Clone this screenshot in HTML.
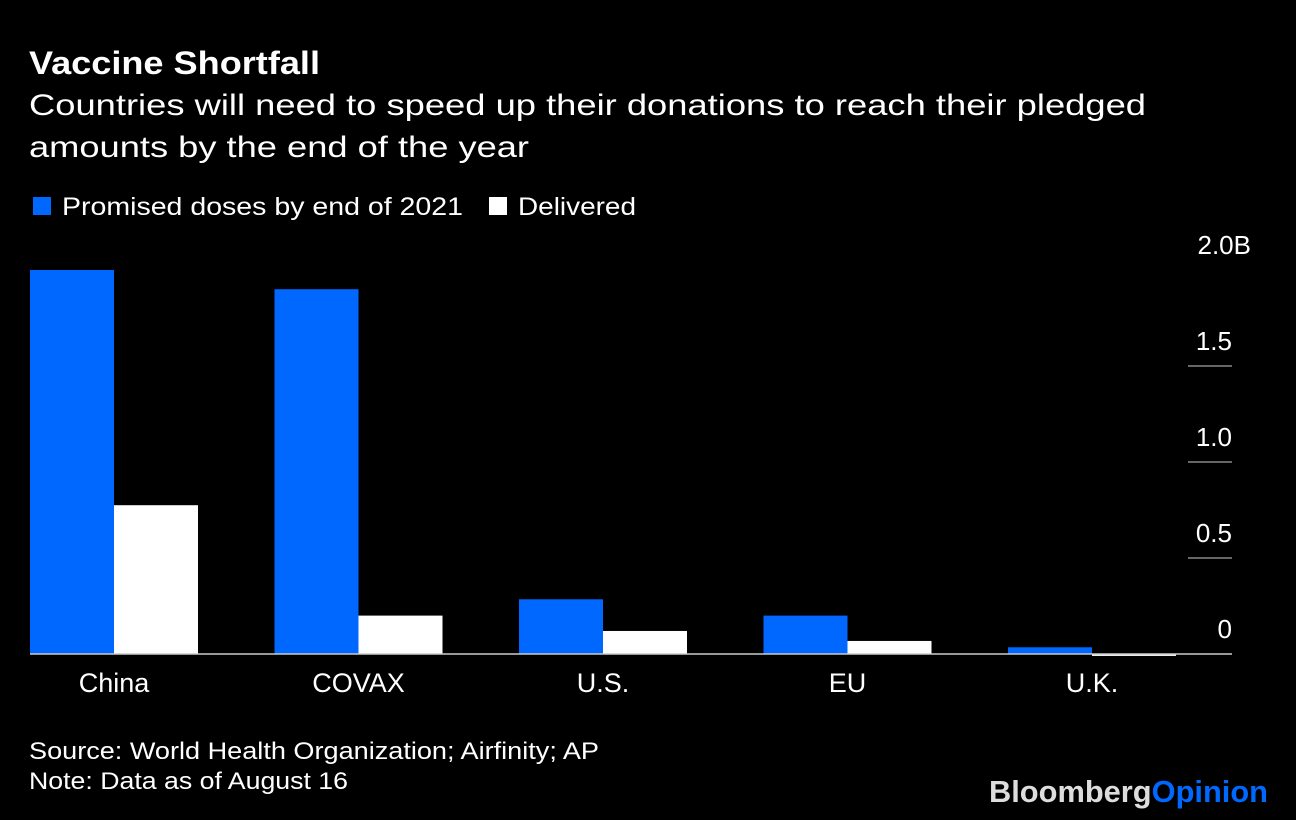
<!DOCTYPE html>
<html><head><meta charset="utf-8"><style>
body{margin:0;background:#000;width:1296px;height:820px;overflow:hidden;font-family:"Liberation Sans",sans-serif;color:#fff}
svg{position:absolute;left:0;top:0}
</style></head><body>
<svg width="1296" height="820">
<text x="29" y="74" font-size="32" font-weight="bold" fill="#fff" textLength="291" lengthAdjust="spacingAndGlyphs">Vaccine Shortfall</text>
<text x="29" y="115" font-size="30" fill="#fff" textLength="1117" lengthAdjust="spacingAndGlyphs">Countries will need to speed up their donations to reach their pledged</text>
<text x="29" y="157" font-size="30" fill="#fff" textLength="500" lengthAdjust="spacingAndGlyphs">amounts by the end of the year</text>
<rect x="33" y="197" width="18" height="18" fill="#0068ff"/>
<text x="62" y="215" font-size="25" fill="#fff" textLength="401" lengthAdjust="spacingAndGlyphs">Promised doses by end of 2021</text>
<rect x="489" y="197" width="18" height="18" fill="#fff"/>
<text x="518" y="215" font-size="25" fill="#fff" textLength="118" lengthAdjust="spacingAndGlyphs">Delivered</text>
<g id="plot"></g>
<text x="29" y="759" font-size="24" fill="#fff" textLength="570" lengthAdjust="spacingAndGlyphs">Source: World Health Organization; Airfinity; AP</text>
<text x="29" y="789" font-size="24" fill="#fff" textLength="319" lengthAdjust="spacingAndGlyphs">Note: Data as of August 16</text>
<text x="989" y="802" font-size="31" font-weight="bold" textLength="279" lengthAdjust="spacingAndGlyphs"><tspan fill="#ddd">Bloomberg</tspan><tspan fill="#0068ff">Opinion</tspan></text>
</svg>
<script>
const categories=["China","COVAX","U.S.","EU","U.K."];
const promised=[2.0,1.90,0.285,0.2,0.035];
const delivered=[0.775,0.2,0.12,0.068,-0.01];
const tickValues=[0,0.5,1.0,1.5,2.0];
const tickLabels=["0","0.5","1.0","1.5","2.0B"];
const NS="http://www.w3.org/2000/svg";
const g=document.getElementById('plot');
const y0=654, pxPer=192;
const y=v=>y0-v*pxPer;
const groupX=i=>30+i*244.5;
const bw=84;
function mk(t,a){const e=document.createElementNS(NS,t);for(const k in a)e.setAttribute(k,a[k]);g.appendChild(e);return e;}
tickValues.forEach((v,i)=>{
 if(v>0&&i<tickValues.length-1){const l=mk('line',{x1:1188,x2:1232,y1:y(v),y2:y(v),stroke:'#ccc','stroke-width':1});
 
 }
 const last=i===tickValues.length-1;
 const t=mk('text',{x:last?1251:1232,y:y(v)-16,'font-size':26,fill:'#fff','text-anchor':'end'});t.textContent=tickLabels[i];
 
 
});
categories.forEach((c,i)=>{
 const x=groupX(i);
 const p=promised[i],d=delivered[i];
 const b1=mk('rect',{x:x,y:Math.min(y(p),y0),width:bw,height:Math.abs(y(p)-y0),fill:'#0068ff'});
 
 
 const b2=mk('rect',{x:x+bw,y:Math.min(y(d),y0),width:bw,height:Math.max(1,Math.abs(y(d)-y0)),fill:'#fff'});
 
 
 const t=mk('text',{x:x+bw,y:692,'font-size':27,fill:'#fff','text-anchor':'middle'});t.textContent=c;
 
 
});
const base=mk('line',{x1:30,x2:1232,y1:y0,y2:y0,stroke:'#ccc','stroke-width':1.5});


</script>
</body></html>
